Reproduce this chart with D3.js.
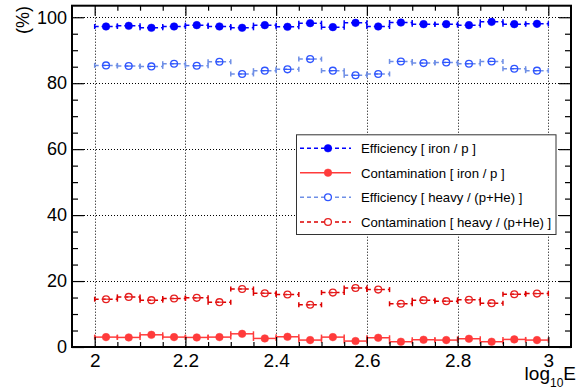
<!DOCTYPE html>
<html>
<head>
<meta charset="utf-8">
<script src="https://cdn.jsdelivr.net/npm/d3@7"></script>
<style>
  html,body{margin:0;padding:0;background:#fff;}
  svg{display:block;font-family:"Liberation Sans",Arial,Helvetica,sans-serif;}
</style>
</head>
<body>
<div id="chart"></div>
<script>
// bins of log10E, width 0.05 from 2 to 3
const binLo = [2.00,2.05,2.10,2.15,2.20,2.25,2.30,2.35,2.40,2.45,2.50,2.55,2.60,2.65,2.70,2.75,2.80,2.85,2.90,2.95];
const binW = 0.05;

const effIron   = [97.2,97.4,96.8,97.2,97.6,97.2,96.8,97.6,97.1,98.2,97.0,98.3,97.2,98.4,97.9,97.9,97.6,98.6,97.9,98.0];
const contIron  = [3.0,2.9,3.7,3.0,2.9,3.0,4.0,2.6,3.1,2.1,3.0,1.8,2.8,1.6,2.2,2.1,2.5,1.6,2.3,2.1];
const effHeavy  = [85.4,85.2,85.1,85.9,85.3,86.5,82.8,83.8,84.2,87.3,83.8,82.4,82.8,86.6,86.1,86.3,85.9,86.6,84.4,83.8];
const contHeavy = [14.5,15.2,14.2,14.7,14.9,13.6,17.6,16.3,15.9,12.8,16.5,17.9,17.4,13.1,14.2,13.9,14.3,13.3,16.0,16.2];

const xMajor = [2,2.2,2.4,2.6,2.8,3];
const yMajor = [0,20,40,60,80,100];

const series = [
  {name:"Efficiency [ iron / p ]",            vals:effIron,   line:"#0000ff", mark:"#0000ff", dash:"4,3", filled:true},
  {name:"Contamination [ iron / p ]",         vals:contIron,  line:"#ff3b3b", mark:"#ff3b3b", dash:null,  filled:true},
  {name:"Efficiency [ heavy / (p+He) ]",      vals:effHeavy,  line:"#6f8fe6", mark:"#2f55ff", dash:"4,3", filled:false},
  {name:"Contamination [ heavy / (p+He) ]",   vals:contHeavy, line:"#dd0000", mark:"#e62020", dash:"4,3", filled:false}
];

const W=585, H=390;
const F={l:72,r:571,t:5.7,b:347};

const svg=d3.select("#chart").append("svg").attr("width",W).attr("height",H);

const x=d3.scaleLinear().domain([1.95,3.05]).range([F.l,F.r]);
const y=d3.scaleLinear().domain([0,103.5]).range([F.b,F.t]);

// grid
const grid=svg.append("g").attr("stroke","#000").attr("stroke-width",1).attr("stroke-dasharray","1,2");
xMajor.forEach(v=>{
  grid.append("line").attr("x1",Math.round(x(v))+0.5).attr("x2",Math.round(x(v))+0.5).attr("y1",F.t).attr("y2",F.b);
});
yMajor.filter(v=>v>0).forEach(v=>{
  grid.append("line").attr("y1",Math.round(y(v))+0.5).attr("y2",Math.round(y(v))+0.5).attr("x1",F.l).attr("x2",F.r);
});

// series: horizontal error bars with end caps + markers
const plot=svg.append("g");
series.forEach(s=>{
  const g=plot.append("g");
  s.vals.forEach((v,i)=>{
    const x0=x(binLo[i]), x1=x(binLo[i]+binW), yy=y(v);
    g.append("line").attr("x1",x0).attr("x2",x1).attr("y1",yy).attr("y2",yy)
      .attr("stroke",s.line).attr("stroke-width",1.5).attr("stroke-dasharray",s.dash);
    [x0,x1].forEach(xc=>{
      g.append("line").attr("x1",xc).attr("x2",xc).attr("y1",yy-2.5).attr("y2",yy+2.5)
        .attr("stroke",s.line).attr("stroke-width",1.5);
    });
  });
  g.selectAll("circle").data(s.vals).join("circle")
    .attr("cx",(d,i)=>x(binLo[i]+binW/2)).attr("cy",d=>y(d))
    .attr("r",s.filled?3.8:3.4)
    .attr("fill",s.filled?s.mark:"none")
    .attr("stroke",s.mark).attr("stroke-width",s.filled?0.5:1.3);
  if(!s.filled){
    g.selectAll("line.mid").data(s.vals).join("line").attr("class","mid")
      .attr("x1",(d,i)=>x(binLo[i]+binW/2)-3.4).attr("x2",(d,i)=>x(binLo[i]+binW/2)+3.4)
      .attr("y1",d=>y(d)).attr("y2",d=>y(d)).attr("stroke",s.mark).attr("stroke-width",1.2);
  }
});

// axes with inward ticks (ROOT style)
const xMinor=d3.range(2,3.001,0.05).map(v=>+v.toFixed(2)).filter(v=>!xMajor.some(m=>Math.abs(m-v)<1e-6));
const yMinor=d3.range(5,101,5).filter(v=>v%20!==0);

function axisStyle(sel){
  sel.select(".domain").remove();
  sel.selectAll(".tick line").attr("stroke","#000").attr("stroke-width",1.2);
}

svg.append("g").attr("transform",`translate(0,${F.b})`)
  .call(d3.axisBottom(x).tickValues(xMajor).tickSize(-10).tickPadding(7).tickFormat(d3.format("")))
  .call(axisStyle)
  .call(g=>g.selectAll("text").attr("font-size",19).attr("fill","#000").attr("font-family","Liberation Sans, Arial, sans-serif"));
svg.append("g").attr("transform",`translate(0,${F.b})`)
  .call(d3.axisBottom(x).tickValues(xMinor).tickSize(-5).tickFormat(""))
  .call(axisStyle);
svg.append("g").attr("transform",`translate(0,${F.t})`)
  .call(d3.axisTop(x).tickValues(xMajor).tickSize(-10).tickFormat(""))
  .call(axisStyle);
svg.append("g").attr("transform",`translate(0,${F.t})`)
  .call(d3.axisTop(x).tickValues(xMinor).tickSize(-5).tickFormat(""))
  .call(axisStyle);

svg.append("g").attr("transform",`translate(${F.l},0)`)
  .call(d3.axisLeft(y).tickValues(yMajor).tickSize(-12).tickPadding(5).tickFormat(d3.format("")))
  .call(axisStyle)
  .call(g=>g.selectAll("text").attr("font-size",18).attr("fill","#000").attr("font-family","Liberation Sans, Arial, sans-serif"));
svg.append("g").attr("transform",`translate(${F.l},0)`)
  .call(d3.axisLeft(y).tickValues(yMinor).tickSize(-6).tickFormat(""))
  .call(axisStyle);
svg.append("g").attr("transform",`translate(${F.r},0)`)
  .call(d3.axisRight(y).tickValues(yMajor).tickSize(-12).tickFormat(""))
  .call(axisStyle);
svg.append("g").attr("transform",`translate(${F.r},0)`)
  .call(d3.axisRight(y).tickValues(yMinor).tickSize(-6).tickFormat(""))
  .call(axisStyle);

// frame
svg.append("rect").attr("x",F.l).attr("y",F.t).attr("width",F.r-F.l).attr("height",F.b-F.t)
  .attr("fill","none").attr("stroke","#000").attr("stroke-width",2);

// axis titles
const xt=svg.append("text").attr("x",576).attr("y",380).attr("text-anchor","end").attr("font-size",19).attr("fill","#000");
xt.append("tspan").text("log");
xt.append("tspan").attr("font-size",12).attr("dy",7).text("10");
xt.append("tspan").attr("dy",-7).text("E");

svg.append("text").attr("transform","rotate(-90)").attr("x",-6).attr("y",29)
  .attr("text-anchor","end").attr("font-size",18).attr("fill","#000").text("(%)");

// legend
const L={x:296,y:134.3,w:259.5,h:99.7};
const leg=svg.append("g");
leg.append("rect").attr("x",L.x+0.5).attr("y",L.y+0.5).attr("width",L.w).attr("height",L.h)
  .attr("fill","#fff").attr("stroke","#333").attr("stroke-width",1);
const rowY=[148.3,172.7,197.3,222];
series.forEach((s,i)=>{
  const yy=rowY[i];
  leg.append("line").attr("x1",300).attr("x2",351).attr("y1",yy).attr("y2",yy)
    .attr("stroke",s.line).attr("stroke-width",1.5).attr("stroke-dasharray",s.dash);
  leg.append("circle").attr("cx",328).attr("cy",yy).attr("r",s.filled?3.8:3.4)
    .attr("fill",s.filled?s.mark:"#fff").attr("stroke",s.mark).attr("stroke-width",s.filled?0.5:1.3);
  leg.append("text").attr("x",361).attr("y",yy+4.8).attr("font-size",13.2).attr("fill","#000").text(s.name);
});
</script>
</body>
</html>
